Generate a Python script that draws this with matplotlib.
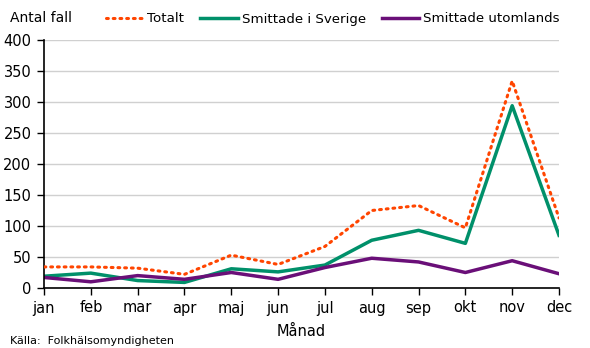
import matplotlib
matplotlib.use('Agg')
from matplotlib import pyplot as plt

months = ['jan', 'feb', 'mar', 'apr', 'maj', 'jun', 'jul', 'aug', 'sep', 'okt', 'nov', 'dec']
totalt = [34, 34, 32, 22, 53, 38, 67, 125, 133, 97, 334, 113]
sverige = [19, 24, 12, 9, 31, 26, 37, 77, 93, 72, 294, 85]
utomlands = [17, 10, 20, 14, 25, 14, 33, 48, 42, 25, 44, 23]

plt.rcParams['font.family'] = ['DejaVu Sans']
fig = plt.figure(figsize=(5.9, 3.48), dpi=100)
ax = fig.add_axes([44 / 590, 1 - 288 / 348, 515 / 590, 248 / 348])

x = range(len(months))
ax.plot(x, totalt, color='#FF4500', lw=2.2, linestyle=(0, (0.6, 1.6)), dash_capstyle='round', label='Totalt', zorder=3)
ax.plot(x, sverige, color='#00906A', lw=2.5, label='Smittade i Sverige', zorder=2)
ax.plot(x, utomlands, color='#6A0F78', lw=2.5, label='Smittade utomlands', zorder=2)

ax.set_xlim(0, 11)
ax.set_ylim(0, 400)
ax.set_yticks(range(0, 401, 50))
ax.set_xticks(list(x))
ax.set_xticklabels(months)
ax.grid(axis='y', color='#D0D0D0', lw=1)
ax.set_axisbelow(True)
for s in ['top', 'right']:
    ax.spines[s].set_visible(False)
ax.spines['left'].set_linewidth(1.2)
ax.spines['bottom'].set_linewidth(1.2)
ax.tick_params(axis='both', labelsize=10.5, length=5, width=1, direction='out', pad=4)
ax.set_xlabel('Månad', fontsize=10.5, labelpad=6)

fig.text(10 / 590, 1 - 18 / 348, 'Antal fall', fontsize=10, va='center')
fig.text(10 / 590, 1 - 341 / 348, 'Källa:  Folkhälsomyndigheten', fontsize=8, va='center')
ax.legend(loc='center', bbox_to_anchor=(0.561, 1 + 21 / 248), ncol=3, frameon=False,
          fontsize=9.6, handlelength=2.8, handletextpad=0.3, columnspacing=1.2,
          borderaxespad=0)

fig.savefig('out.png', dpi=100)
